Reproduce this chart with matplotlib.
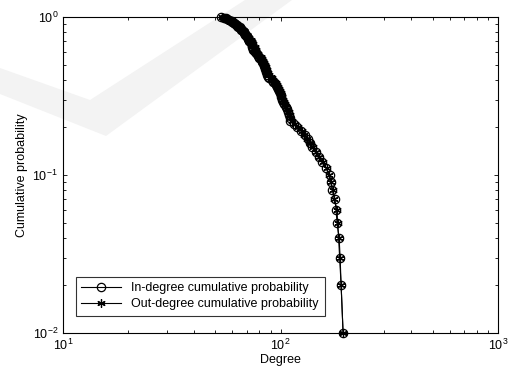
import numpy as np
import matplotlib
matplotlib.use('Agg')
import matplotlib.pyplot as plt
from matplotlib.patches import Polygon

plt.rcParams['font.family'] = ['Liberation Sans', 'DejaVu Sans']
plt.rcParams['mathtext.fontset'] = 'custom'
plt.rcParams['mathtext.rm'] = 'Liberation Sans'
plt.rcParams['mathtext.it'] = 'Liberation Sans'

# node degrees, sorted ascending
in_degree = [53, 55, 56, 57, 58, 59, 60, 60, 61, 61,
             62, 63, 63, 64, 65, 65, 66, 66, 67, 67,
             68, 68, 69, 69, 70, 70, 71, 71, 72, 72,
             72, 73, 73, 74, 74, 74, 75, 75, 75, 76,
             76, 77, 78, 79, 80, 80, 81, 82, 82, 83,
             84, 84, 85, 85, 86, 86, 87, 87, 88, 89,
             91, 92, 94, 95, 96, 97, 98, 99, 100, 101,
             102, 103, 104, 106, 107, 108, 109, 110, 111, 115,
             119, 124, 129, 134, 137, 140, 145, 150, 155, 162,
             168, 171, 173, 178, 180, 182, 186, 188, 190, 194]
out_degree = [54, 55, 56, 57, 57, 59, 60, 61, 61, 62,
              62, 63, 64, 64, 65, 66, 66, 67, 68, 68,
              68, 69, 69, 70, 70, 71, 72, 72, 73, 73,
              73, 74, 74, 75, 75, 76, 76, 76, 77, 77,
              77, 78, 79, 80, 81, 81, 82, 83, 83, 84,
              85, 85, 86, 86, 87, 87, 88, 89, 90, 91,
              92, 93, 95, 96, 97, 98, 99, 100, 101, 102,
              103, 104, 105, 106, 107, 109, 110, 111, 113, 116,
              120, 125, 128, 133, 136, 141, 146, 151, 157, 163,
              167, 170, 174, 177, 182, 183, 185, 187, 190, 194]


def ccdf(deg):
    deg = np.sort(np.asarray(deg, dtype=float))
    n = len(deg)
    return deg, np.arange(n, 0, -1) / n


fig = plt.figure(figsize=(5.11, 3.74), dpi=100)
fig.patch.set_facecolor('white')

# faint logo in the background, under everything
W, H = 511, 374
logo = [(0, 68), (90, 100), (245, 0), (292, 0), (106, 136), (0, 94)]
fig.patches.append(Polygon([(x / W, 1 - y / H) for x, y in logo], closed=True,
                           transform=fig.transFigure, facecolor='#f3f3f3',
                           edgecolor='none', zorder=-10))

ax = fig.add_axes([63 / W, 1 - 333 / H, (498 - 63) / W, (333 - 17) / H])
ax.set_facecolor('none')
ax.set_zorder(1)

x1, y1 = ccdf(in_degree)
x2, y2 = ccdf(out_degree)
ax.loglog(x1, y1, '-', color='k', lw=0.8, marker='o', ms=6, mfc='none',
          mec='k', mew=0.9, label='In-degree cumulative probability',
          clip_on=False)
ax.loglog(x2, y2, '-', color='k', lw=0.8, marker=(6, 2, 0), ms=6,
          mec='k', mew=0.9, label='Out-degree cumulative probability',
          clip_on=False)

ax.set_xlim(10, 1000)
ax.set_ylim(0.01, 1)
ax.set_xlabel('Degree', fontsize=9, labelpad=1)
ax.set_ylabel('Cumulative probability', fontsize=9, labelpad=3)
ax.tick_params(which='both', direction='in', top=True, right=True,
               labelsize=9, width=0.6)
ax.tick_params(which='major', length=3)
ax.tick_params(which='minor', length=2.5)
for s in ax.spines.values():
    s.set_linewidth(0.8)

leg = ax.legend(loc='lower left', fontsize=9, frameon=True, fancybox=False,
                edgecolor='k', handlelength=3.2, borderpad=0.45,
                labelspacing=0.3, bbox_to_anchor=(0.015, 0.035))
leg.get_frame().set_linewidth(0.8)

fig.savefig('out.png', dpi=100, facecolor='white')
